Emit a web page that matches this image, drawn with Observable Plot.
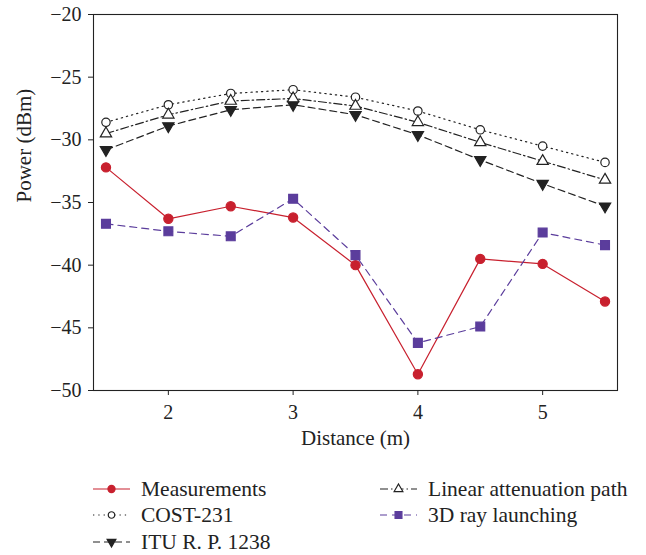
<!DOCTYPE html>
<html><head><meta charset="utf-8">
<script src="https://cdn.jsdelivr.net/npm/d3@7"></script>
<script src="https://cdn.jsdelivr.net/npm/@observablehq/plot@0.6"></script>
<style>
body{margin:0;background:#fff;font-family:"Liberation Serif",serif;}
#wrap{position:relative;width:646px;height:555px;background:#fff;}
.leg{position:absolute;display:flex;align-items:center;font-size:21.5px;color:#222;height:26px;white-space:nowrap;}
.leg svg{margin-right:11px;}
</style></head><body><div id="wrap"></div>
<script>
// Data
const distance = [1.5, 2, 2.5, 3, 3.5, 4, 4.5, 5, 5.5];
const measurements = [-32.2, -36.3, -35.3, -36.2, -40.0, -48.7, -39.5, -39.9, -42.9];
const cost231 = [-28.6, -27.2, -26.3, -26.0, -26.6, -27.7, -29.2, -30.5, -31.8];
const linearPath = [-29.5, -28.0, -26.9, -26.7, -27.3, -28.6, -30.2, -31.7, -33.2];
const itu1238 = [-30.8, -28.9, -27.6, -27.2, -28.0, -29.6, -31.6, -33.5, -35.3];
const rayLaunching = [-36.7, -37.3, -37.7, -34.7, -39.2, -46.2, -44.9, -37.4, -38.4];
const seriesNames = ["Measurements", "COST-231", "ITU R. P. 1238", "Linear attenuation path", "3D ray launching"];
const xTicks = [2, 3, 4, 5];
const yTicks = [-50, -45, -40, -35, -30, -25, -20];

// Styles
const serif = "Liberation Serif";
const styles = [
  {values: measurements, stroke: "#c8202e", dash: null, symbol: "circle", fill: "#c8202e", mstroke: "#c8202e", r: 4.6, rotate: 0},
  {values: cost231, stroke: "#222", dash: "1.3,4", symbol: "circle", fill: "white", mstroke: "#222", r: 4.2, rotate: 0},
  {values: itu1238, stroke: "#222", dash: "7,4", symbol: "triangle", fill: "#222", mstroke: "#222", r: 4.2, rotate: 180},
  {values: linearPath, stroke: "#222", dash: "8,3,1.5,3", symbol: "triangle", fill: "white", mstroke: "#222", r: 4.2, rotate: 0},
  {values: rayLaunching, stroke: "#5b3d9c", dash: "7,5", symbol: "square", fill: "#5b3d9c", mstroke: "#5b3d9c", r: 5.0, rotate: 0}
];
const series = styles.map((s, i) => ({...s, name: seriesNames[i], data: distance.map((d, j) => ({x: d, y: s.values[j]}))}));

const marks = [
  Plot.frame({stroke: "#222", strokeWidth: 1.1}),
  Plot.axisX({ticks: xTicks, tickSize: 5, tickPadding: 9, label: null, tickFormat: d3.format("d"), fontFamily: serif, fontSize: 20}),
  Plot.axisY({ticks: yTicks, tickSize: 5, tickPadding: 7, label: null, tickFormat: d3.format("d"), fontFamily: serif, fontSize: 20}),
  Plot.text(["Distance (m)"], {frameAnchor: "bottom", dy: 54, fontSize: 21, fontFamily: serif}),
  Plot.text(["Power (dBm)"], {frameAnchor: "left", dx: -69, rotate: -90, fontSize: 21, fontFamily: serif})
];
for (const s of series) {
  marks.push(Plot.line(s.data, {x: "x", y: "y", stroke: s.stroke, strokeWidth: 1.2, strokeDasharray: s.dash}));
}
for (const s of series) {
  marks.push(Plot.dot(s.data, {x: "x", y: "y", symbol: s.symbol, r: s.r, fill: s.fill, stroke: s.mstroke, strokeWidth: 1.2, rotate: s.rotate}));
}
const chart = Plot.plot({
  width: 646, height: 460,
  marginLeft: 93, marginRight: 29, marginTop: 14, marginBottom: 70,
  style: {color: "#222", background: "white"},
  x: {domain: [1.4, 5.6]},
  y: {domain: [-50, -20]},
  marks
});
chart.setAttribute("font-family", serif);
d3.select(chart).selectAll("text").attr("font-family", serif).style("font-family", `"${serif}", serif`);
const wrap = document.getElementById("wrap");
wrap.appendChild(chart);

// Legend
const legPos = [[93, 476], [93, 502], [93, 529], [380, 476], [380, 502]];
const symMap = {circle: d3.symbolCircle, triangle: d3.symbolTriangle, square: d3.symbolSquare};
series.forEach((s, i) => {
  const div = document.createElement("div");
  div.className = "leg";
  div.style.left = legPos[i][0] + "px";
  div.style.top = legPos[i][1] + "px";
  const svg = d3.create("svg").attr("width", 37).attr("height", 14);
  svg.append("line").attr("x1", 0).attr("x2", 37).attr("y1", 7).attr("y2", 7)
    .attr("stroke", s.stroke).attr("stroke-width", 1.2).attr("stroke-dasharray", s.dash);
  const path = d3.symbol(symMap[s.symbol], Math.PI * s.r * s.r * 0.6)();
  svg.append("path").attr("d", path).attr("transform", `translate(18.5,7) rotate(${s.rotate})`)
    .attr("fill", s.fill).attr("stroke", s.mstroke).attr("stroke-width", 1.2);
  div.appendChild(svg.node());
  const span = document.createElement("span");
  span.textContent = s.name;
  div.appendChild(span);
  wrap.appendChild(div);
});
</script>
</body></html>
